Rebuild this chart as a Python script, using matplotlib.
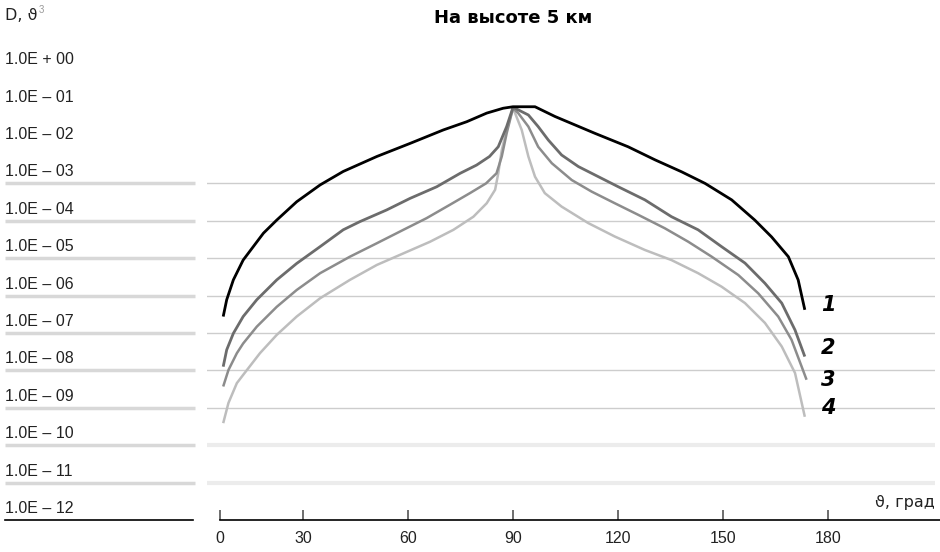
import numpy as np
import matplotlib.pyplot as plt
import matplotlib.transforms as mtransforms

plt.rcParams['font.family'] = ['Liberation Sans Narrow', 'Liberation Sans', 'DejaVu Sans']

# angle (deg) and log10 D for each curve
ang1 = [7.2, 8.2, 10.1, 12.9, 15.8, 18.7, 22.5, 28.2, 34.9, 41.5, 51.1, 60.6, 70.1, 76.8, 82.5, 87.2, 90.0,
        96.3, 102.0, 113.4, 122.9, 130.6, 138.2, 144.9, 152.5, 159.1, 163.9, 168.7, 171.5, 173.4]
lg1 = [-6.56, -6.11, -5.58, -5.05, -4.69, -4.33, -3.98, -3.49, -3.04, -2.68, -2.28, -1.93, -1.57, -1.35, -1.12, -0.99, -0.95,
       -0.95, -1.21, -1.66, -2.02, -2.37, -2.69, -3.00, -3.44, -3.98, -4.43, -4.96, -5.58, -6.38]

ang2 = [7.2, 8.2, 10.1, 12.9, 16.8, 22.5, 28.2, 34.9, 41.5, 46.3, 53.9, 60.6, 68.2, 74.9, 79.6, 83.3, 85.8, 88.2, 90.0,
        90.6, 94.4, 97.2, 100.1, 103.9, 108.7, 114.4, 120.1, 127.7, 135.3, 142.9, 149.6, 156.3, 162.0, 166.8, 170.6, 173.4]
lg2 = [-7.90, -7.45, -7.01, -6.56, -6.11, -5.58, -5.14, -4.69, -4.24, -4.02, -3.71, -3.40, -3.09, -2.73, -2.51, -2.28, -2.02, -1.48, -0.97,
       -0.99, -1.17, -1.48, -1.84, -2.24, -2.55, -2.82, -3.09, -3.44, -3.89, -4.24, -4.69, -5.13, -5.67, -6.20, -6.92, -7.63]

ang3 = [7.2, 8.7, 11.1, 12.9, 16.8, 22.5, 28.2, 34.9, 43.4, 51.1, 58.7, 65.3, 72.0, 77.7, 82.3, 85.3, 86.8, 88.2, 90.0,
        91.5, 94.4, 97.2, 101.1, 106.8, 112.5, 119.1, 125.8, 133.4, 140.1, 146.8, 154.4, 160.1, 165.8, 169.6, 172.5, 173.9]
lg3 = [-8.43, -7.99, -7.54, -7.28, -6.83, -6.30, -5.85, -5.40, -4.96, -4.60, -4.24, -3.93, -3.57, -3.26, -3.00, -2.73, -2.28, -1.66, -0.99,
       -1.12, -1.48, -2.02, -2.46, -2.91, -3.22, -3.53, -3.84, -4.20, -4.56, -4.96, -5.45, -5.94, -6.56, -7.18, -7.90, -8.25]

ang4 = [7.2, 8.7, 11.1, 12.9, 17.7, 22.5, 28.2, 34.9, 43.4, 51.1, 58.7, 66.3, 73.0, 78.7, 82.5, 84.9, 85.8, 86.8, 88.2, 90.0,
        90.6, 92.5, 94.4, 96.3, 99.1, 103.9, 111.5, 119.1, 127.7, 135.3, 142.9, 149.6, 156.3, 162.0, 166.8, 170.6, 173.4]
lg4 = [-9.41, -8.87, -8.34, -8.12, -7.54, -7.05, -6.56, -6.07, -5.58, -5.18, -4.87, -4.56, -4.24, -3.89, -3.53, -3.17, -2.73, -2.11, -1.57, -1.00,
       -1.12, -1.57, -2.28, -2.82, -3.26, -3.62, -4.06, -4.42, -4.78, -5.05, -5.40, -5.76, -6.20, -6.73, -7.36, -8.07, -9.24]

curve_names = ['1', '2', '3', '4']
curve_label_lg = [-6.25, -7.40, -8.25, -9.0]

exps = list(range(0, -13, -1))
ylabels = ['1.0E + 00'] + ['1.0E \u2013 %02d' % (-e) for e in exps[1:]]
xticks = [6.3, 30, 60, 90, 120, 150, 180]
xticklabels = ['0', '30', '60', '90', '120', '150', '180']

fig = plt.figure(figsize=(9.4, 5.52), dpi=100)
W, H = 940, 552
ax = fig.add_axes([207 / W, (H - 520) / H, (935 - 207) / W, 460 / H])
ax.set_yscale('log')
ax.set_ylim(1e-12, 10 ** 0.3)
ax.set_xlim(2.57, 210.6)
for s in ax.spines.values():
    s.set_visible(False)

# grid lines
for e in range(-3, -10, -1):
    ax.axhline(10.0 ** e, color='#cdcdcd', lw=1, zorder=1)
for e in (-10, -11):
    ax.axhline(10.0 ** e, color='#ececec', lw=3, zorder=1)

trans = mtransforms.blended_transform_factory(fig.transFigure, ax.transData)
# bottom axis line
ax.plot([220 / W, 940 / W], [1e-12, 1e-12], color='black', lw=1.2, transform=trans, clip_on=False)
ax.plot([5 / W, 193 / W], [1e-12, 1e-12], color='black', lw=1.2, transform=trans, clip_on=False)
# underlines below labels
for e in range(-3, -12, -1):
    ax.plot([5 / W, 195 / W], [10.0 ** e, 10.0 ** e], color='#d8d8d8', lw=2.5,
            transform=trans, clip_on=False, solid_capstyle='butt')

for e, lab in zip(exps, ylabels):
    ax.text(5 / W, 10.0 ** (e + 0.31), lab, transform=trans, fontsize=11.5,
            ha='left', va='center', color='#222222')

ax.set_yticks([])
ax.yaxis.set_minor_locator(plt.NullLocator())
ax.set_xticks(xticks)
ax.set_xticklabels(xticklabels, fontsize=11.5, color='#222222')
ax.tick_params(axis='x', direction='in', length=7, width=1.2, color='#555555', pad=8)
ax.xaxis.get_major_ticks()[-1].tick1line.set_color('#c8c8c8')

kw = dict(solid_joinstyle='round', solid_capstyle='butt')
ax.plot(ang4, 10.0 ** np.array(lg4), color='#bdbdbd', lw=1.8, zorder=3, **kw)
ax.plot(ang3, 10.0 ** np.array(lg3), color='#8c8c8c', lw=1.8, zorder=4, **kw)
ax.plot(ang2, 10.0 ** np.array(lg2), color='#6c6c6c', lw=2.0, zorder=5, **kw)
ax.plot(ang1, 10.0 ** np.array(lg1), color='black', lw=2.0, zorder=6, **kw)

for name, lg in zip(curve_names, curve_label_lg):
    ax.text(180, 10.0 ** lg, name, fontsize=15, fontweight='heavy', fontstyle='italic',
            ha='center', va='center', family=['DejaVu Sans'])

fig.text(5 / W, 1 - 15 / H, 'D, \u03d1', fontsize=11.5, ha='left', va='center',
         family=['Liberation Sans Narrow', 'DejaVu Sans'], color='#222222')
fig.text(39 / W, 1 - 10 / H, '3', fontsize=7, ha='left', va='center', color='#999999')
fig.text(935 / W, 1 - 503 / H, '\u03d1, град', fontsize=11.5, ha='right', va='center',
         family=['Liberation Sans Narrow', 'DejaVu Sans'], color='#222222')
fig.text(513 / W, 1 - 18 / H, 'На высоте 5 км', fontsize=13, fontweight='heavy',
         ha='center', va='center', family=['DejaVu Sans'])

fig.savefig('out.png', dpi=100, facecolor='white')
